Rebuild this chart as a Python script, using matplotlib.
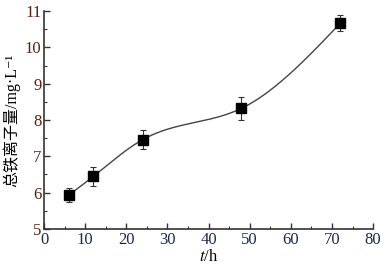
import matplotlib.pyplot as plt
import numpy as np

plt.rcParams['mathtext.fontset'] = 'stix'

# sampling time (h) and total iron ion content (mg/L)
t = np.array([6, 12, 24, 48, 72])
fe = np.array([5.93, 6.45, 7.46, 8.32, 10.66])
err = np.array([0.20, 0.26, 0.27, 0.32, 0.22])


def natural_spline(x, y, xs):
    n = len(x)
    h = np.diff(x)
    A = np.zeros((n, n))
    b = np.zeros(n)
    A[0, 0] = A[-1, -1] = 1.0
    for i in range(1, n - 1):
        A[i, i - 1] = h[i - 1]
        A[i, i] = 2 * (h[i - 1] + h[i])
        A[i, i + 1] = h[i]
        b[i] = 6 * ((y[i + 1] - y[i]) / h[i] - (y[i] - y[i - 1]) / h[i - 1])
    M = np.linalg.solve(A, b)
    idx = np.clip(np.searchsorted(x, xs) - 1, 0, n - 2)
    x0, x1 = x[idx], x[idx + 1]
    hh = x1 - x0
    a = (x1 - xs) / hh
    c = (xs - x0) / hh
    return (a * y[idx] + c * y[idx + 1]
            + ((a**3 - a) * M[idx] + (c**3 - c) * M[idx + 1]) * hh**2 / 6)


fig = plt.figure(figsize=(3.87, 2.69), dpi=100)
ax = fig.add_axes([0.114, 0.149, 0.85, 0.81])

xs = np.linspace(t[0], t[-1], 300)
ax.plot(xs, natural_spline(t.astype(float), fe, xs), color='#444444', lw=1.0)
ax.errorbar(t, fe, yerr=err, fmt='s', color='black', ms=7, ecolor='#333333',
            elinewidth=0.8, capsize=2.5, capthick=0.8)

ax.set_xlim(0, 80)
ax.set_ylim(5, 11)
ax.set_xticks(np.arange(0, 81, 10))
ax.set_yticks(np.arange(5, 12, 1))
ax.set_xticks(np.arange(0, 81, 5), minor=True)
ax.set_yticks(np.arange(5, 11.01, 0.5), minor=True)

for s in ['top', 'right']:
    ax.spines[s].set_visible(False)
for s in ['left', 'bottom']:
    ax.spines[s].set_linewidth(1.2)
    ax.spines[s].set_color('#333333')

ax.tick_params(which='both', direction='in', color='#333333')
ax.tick_params(which='major', length=4, width=1)
ax.tick_params(which='minor', length=2, width=0.8)
ax.tick_params(axis='y', pad=2, colors='#333333', labelcolor='#5a2010', labelsize=12)
ax.tick_params(axis='x', pad=2, colors='#333333', labelcolor='#1a2a50', labelsize=12)
for lab in ax.get_xticklabels() + ax.get_yticklabels():
    lab.set_family('Liberation Serif')

ax.set_xlabel('$t$/h', family='Liberation Serif', fontsize=12, labelpad=1)
ax.set_ylabel('总铁离子量/mg·L⁻¹',
              family=['Liberation Serif', 'Noto Sans CJK SC', 'DejaVu Sans'],
              fontsize=11.5, labelpad=3)

fig.savefig('out.png', dpi=100)
